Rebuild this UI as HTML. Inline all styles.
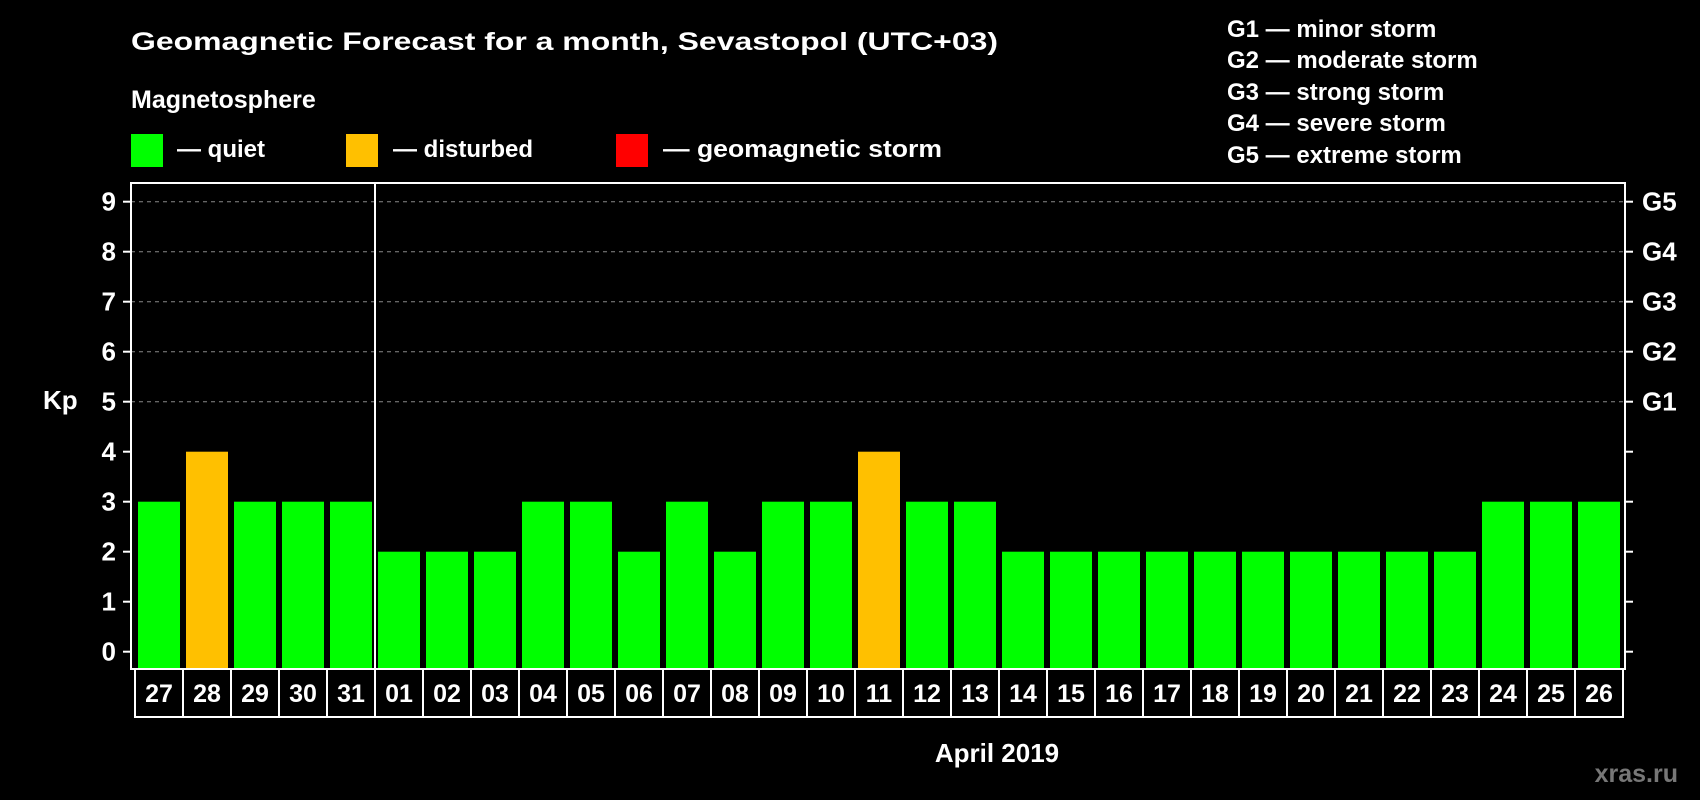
<!DOCTYPE html>
<html><head><meta charset="utf-8"><style>
html,body{margin:0;padding:0;background:#000;width:1700px;height:800px;overflow:hidden}
svg{display:block;font-family:"Liberation Sans",Arial,sans-serif;font-weight:bold}
</style></head><body>
<svg id="chart" width="1700" height="800" viewBox="0 0 1700 800">
<rect width="1700" height="800" fill="#000"/>
<text x="131" y="50" fill="#fff" font-size="25" textLength="867" lengthAdjust="spacingAndGlyphs">Geomagnetic Forecast for a month, Sevastopol (UTC+03)</text>
<text x="131" y="108" fill="#fff" font-size="25">Magnetosphere</text>
<g><rect x="131" y="134" width="32" height="33" fill="#00ff00"/><text x="177" y="157" fill="#fff" font-size="24">— quiet</text></g>
<g><rect x="346" y="134" width="32" height="33" fill="#ffc000"/><text x="393" y="157" fill="#fff" font-size="24">— disturbed</text></g>
<g><rect x="616" y="134" width="32" height="33" fill="#ff0000"/><text x="663" y="157" fill="#fff" font-size="24" textLength="279" lengthAdjust="spacingAndGlyphs">— geomagnetic storm</text></g>
<g fill="#fff" font-size="24">
<text x="1227" y="37">G1 — minor storm</text>
<text x="1227" y="68">G2 — moderate storm</text>
<text x="1227" y="100">G3 — strong storm</text>
<text x="1227" y="131">G4 — severe storm</text>
<text x="1227" y="163">G5 — extreme storm</text>
</g>
<text x="43" y="409" fill="#fff" font-size="26">Kp</text>
<text x="997" y="762" fill="#fff" font-size="26" text-anchor="middle">April 2019</text>
<text x="1678" y="782" fill="#777" font-size="25" text-anchor="end">xras.ru</text>
<g id="plot"></g>
</svg>
<script>
const dates=["27","28","29","30","31","01","02","03","04","05","06","07","08","09","10","11","12","13","14","15","16","17","18","19","20","21","22","23","24","25","26"];
const kpValues=[3,4,3,3,3,2,2,2,3,3,2,3,2,3,3,4,3,3,2,2,2,2,2,2,2,2,2,2,3,3,3];
const yTicks=[0,1,2,3,4,5,6,7,8,9];
const gLabels=["G1","G2","G3","G4","G5"];
const gLevels=[5,6,7,8,9];
const NS="http://www.w3.org/2000/svg";
const plot=document.getElementById('plot');
const L=131,R=1625,T=183,B=669,cell0=135,step=48;
const y=v=>651.7-50*v;
const xs=i=>cell0+step*i;
function mk(tag,attrs,parent){const e=document.createElementNS(NS,tag);for(const k in attrs)e.setAttribute(k,attrs[k]);(parent||plot).appendChild(e);return e;}
// grid
gLevels.forEach(v=>{
  const g=mk('line',{x1:L,x2:R,y1:y(v),y2:y(v),stroke:'#888','stroke-width':1,'stroke-dasharray':'4,4'});
  
  
});
// bars
kpValues.forEach((v,i)=>{
  const r=mk('rect',{x:xs(i)+3,y:y(v),width:42,height:B-y(v),fill:v>=5?'#ff0000':(v>=4?'#ffc000':'#00ff00')});
  
  
});
// frame
const f=mk('rect',{x:L,y:T,width:R-L,height:B-T,fill:'none',stroke:'#fff','stroke-width':2});


const sep=mk('line',{x1:xs(5),x2:xs(5),y1:T,y2:B,stroke:'#fff','stroke-width':2});


// y ticks
yTicks.forEach(v=>{
  mk('line',{x1:L-8,x2:L,y1:y(v),y2:y(v),stroke:'#fff','stroke-width':2});
  mk('line',{x1:R,x2:R+8,y1:y(v),y2:y(v),stroke:'#fff','stroke-width':2});
  const t=mk('text',{x:116,y:y(v)+9,fill:'#fff','font-size':26,'text-anchor':'end'});
  t.textContent=v;
  
  
});
gLabels.forEach((g,i)=>{
  const t=mk('text',{x:1642,y:y(gLevels[i])+9,fill:'#fff','font-size':26});
  t.textContent=g;
  
  
});
// date cells
const bx=mk('rect',{x:cell0,y:B,width:step*dates.length,height:48,fill:'none',stroke:'#fff','stroke-width':2});


dates.forEach((d,i)=>{
  if(i>0) mk('line',{x1:xs(i),x2:xs(i),y1:B,y2:B+48,stroke:'#fff','stroke-width':2});
  const t=mk('text',{x:xs(i)+24,y:702,fill:'#fff','font-size':25,'text-anchor':'middle'});
  t.textContent=d;
  
  
});
</script>
</body></html>
